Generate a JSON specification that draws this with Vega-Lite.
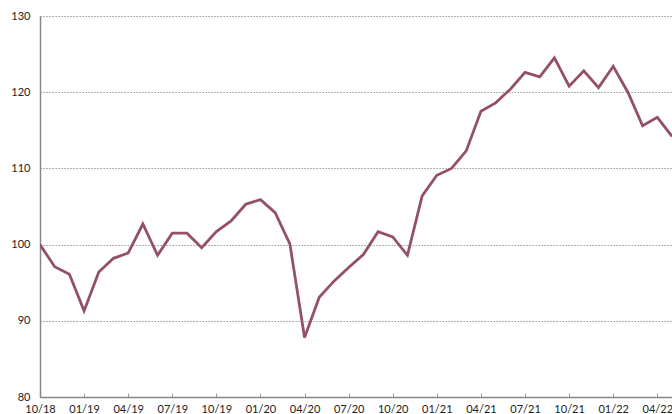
{
  "$schema": "https://vega.github.io/schema/vega-lite/v6.json",
  "width": 632,
  "height": 381,
  "autosize": {"type": "none"},
  "padding": {"left": 40, "top": 16, "right": 0, "bottom": 17},
  "background": "white",
  "config": {"view": {"stroke": null}, "font": "Lato"},
  "data": {"values": [
    {"month": "10/18", "value": 100.0},
    {"month": "11/18", "value": 97.1},
    {"month": "12/18", "value": 96.1},
    {"month": "01/19", "value": 91.3},
    {"month": "02/19", "value": 96.4},
    {"month": "03/19", "value": 98.2},
    {"month": "04/19", "value": 98.9},
    {"month": "05/19", "value": 102.7},
    {"month": "06/19", "value": 98.6},
    {"month": "07/19", "value": 101.5},
    {"month": "08/19", "value": 101.5},
    {"month": "09/19", "value": 99.6},
    {"month": "10/19", "value": 101.7},
    {"month": "11/19", "value": 103.1},
    {"month": "12/19", "value": 105.3},
    {"month": "01/20", "value": 105.9},
    {"month": "02/20", "value": 104.2},
    {"month": "03/20", "value": 100.1},
    {"month": "04/20", "value": 87.8},
    {"month": "05/20", "value": 93.1},
    {"month": "06/20", "value": 95.2},
    {"month": "07/20", "value": 97.0},
    {"month": "08/20", "value": 98.7},
    {"month": "09/20", "value": 101.7},
    {"month": "10/20", "value": 101.0},
    {"month": "11/20", "value": 98.6},
    {"month": "12/20", "value": 106.4},
    {"month": "01/21", "value": 109.1},
    {"month": "02/21", "value": 110.0},
    {"month": "03/21", "value": 112.3},
    {"month": "04/21", "value": 117.5},
    {"month": "05/21", "value": 118.6},
    {"month": "06/21", "value": 120.4},
    {"month": "07/21", "value": 122.6},
    {"month": "08/21", "value": 122.0},
    {"month": "09/21", "value": 124.5},
    {"month": "10/21", "value": 120.8},
    {"month": "11/21", "value": 122.8},
    {"month": "12/21", "value": 120.6},
    {"month": "01/22", "value": 123.4},
    {"month": "02/22", "value": 120.0},
    {"month": "03/22", "value": 115.6},
    {"month": "04/22", "value": 116.7},
    {"month": "05/22", "value": 114.2}
  ]},
  "mark": {"type": "line", "color": "#94506A", "strokeWidth": 2.8, "clip": true},
  "encoding": {
    "x": {
      "field": "month",
      "type": "ordinal",
      "sort": null,
      "scale": {"type": "point", "padding": 0},
      "axis": {
        "title": null,
        "values": ["10/18","01/19","04/19","07/19","10/19","01/20","04/20","07/20","10/20","01/21","04/21","07/21","10/21","01/22","04/22"],
        "labelAngle": 0,
        "labelFontSize": 11,
        "labelColor": "#222222",
        "labelPadding": 10,
        "labelBaseline": "top",
        "labelFlush": false,
        "labelOverlap": false,
        "domainColor": "#868686",
        "domainWidth": 1.5,
        "tickColor": "#9a9a9a",
        "tickSize": -4,
        "grid": false
      }
    },
    "y": {
      "field": "value",
      "type": "quantitative",
      "scale": {"domain": [80, 130], "nice": false, "zero": false},
      "axis": {
        "title": null,
        "values": [80, 90, 100, 110, 120, 130],
        "labelFontSize": 11,
        "labelColor": "#222222",
        "labelPadding": 10,
        "ticks": false,
        "domainColor": "#868686",
        "domainWidth": 1.5,
        "grid": true,
        "gridColor": "#808080",
        "gridDash": [1.2, 1.8],
        "gridWidth": 1.2
      }
    }
  }
}
